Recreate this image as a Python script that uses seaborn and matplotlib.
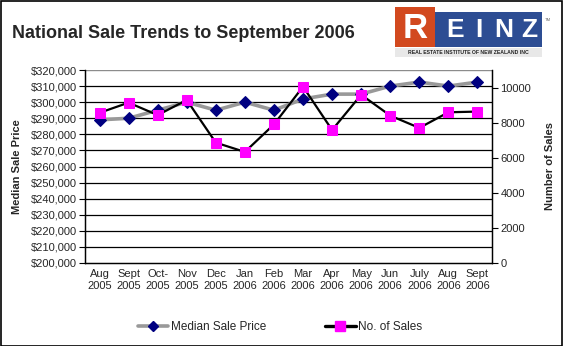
import matplotlib
matplotlib.use("Agg")
import matplotlib.pyplot as plt
from matplotlib.patches import Rectangle
from matplotlib.lines import Line2D
from matplotlib.ticker import FuncFormatter, MultipleLocator, FixedLocator
import seaborn as sns
import pandas as pd
import numpy as np

months = ["Aug\n2005", "Sept\n2005", "Oct-\n2005", "Nov\n2005", "Dec\n2005", "Jan\n2006",
          "Feb\n2006", "Mar\n2006", "Apr\n2006", "May\n2006", "Jun\n2006", "July\n2006",
          "Aug\n2006", "Sept\n2006"]
median_price = [289000, 290000, 295000, 300000, 295000, 300000, 295000,
                302000, 305000, 305000, 310000, 312500, 310000, 312500]
num_sales = [8560, 9140, 8430, 9290, 6860, 6330, 7900,
             10050, 7580, 9590, 8400, 7700, 8590, 8630]

df = pd.DataFrame({"pos": np.arange(len(months)), "price": median_price, "sales": num_sales})

sns.set_style("white")
plt.rcParams["font.family"] = ["Liberation Sans", "DejaVu Sans"]

fig = plt.figure(figsize=(5.63, 3.46), dpi=100)
ax = fig.add_axes([85 / 563, 1 - 263 / 346, (492 - 85) / 563, (263 - 70) / 346])
ax2 = ax.twinx()

# Median sale price: grey line, navy diamonds
sns.lineplot(data=df, x="pos", y="price", ax=ax, color="#999999", linewidth=2.6,
             marker="D", markersize=6.5, markerfacecolor="#000080",
             markeredgecolor="#000080", zorder=3)
# Number of sales: black line, magenta squares
sns.lineplot(data=df, x="pos", y="sales", ax=ax2, color="black", linewidth=1.6,
             marker="s", markersize=7.8, markerfacecolor="#FF00FF",
             markeredgecolor="#FF00FF", zorder=3)

ax.set_xlim(-0.5, len(months) - 0.5)
ax.set_ylim(200000, 320000)
ax2.set_ylim(0, 11000)

# Horizontal gridlines at each price step
for v in range(210000, 320000, 10000):
    ax.axhline(v, color="black", linewidth=0.9, zorder=1)
ax.axhline(320000, color="#8c8c8c", linewidth=1.0, zorder=1)

ax.yaxis.set_major_locator(MultipleLocator(10000))
ax.yaxis.set_major_formatter(FuncFormatter(lambda v, p: f"${v:,.0f}"))
ax2.yaxis.set_major_locator(FixedLocator([0, 2000, 4000, 6000, 8000, 10000]))
ax2.yaxis.set_major_formatter(FuncFormatter(lambda v, p: f"{v:.0f}"))

ax.set_xticks(np.arange(len(months)))
ax.set_xticklabels(months, fontsize=8, linespacing=1.3)
ax.xaxis.set_minor_locator(FixedLocator(np.arange(-0.5, len(months), 1)))
ax.tick_params(axis="x", which="major", length=0, pad=4)
ax.tick_params(axis="x", which="minor", length=4, width=0.8, direction="out", color="black")
ax.tick_params(axis="y", length=4, width=0.8, direction="out", color="black",
               labelsize=8, pad=2, left=True)
ax2.tick_params(axis="y", length=4, width=0.8, direction="out", color="black",
                labelsize=8, pad=2, right=True)

for a in (ax, ax2):
    a.set_xlabel("")
    for s in ("left", "right", "bottom"):
        a.spines[s].set_color("black")
        a.spines[s].set_linewidth(0.9)
    a.spines["top"].set_visible(False)
    a.patch.set_alpha(0)

ax.set_ylabel("Median Sale Price", fontsize=8, fontweight="bold", labelpad=6)
ax2.set_ylabel("Number of Sales", fontsize=8, fontweight="bold", labelpad=10)

# Title
fig.text(12 / 563, 1 - 34 / 346, "National Sale Trends to September 2006",
         fontsize=13, fontweight="bold", va="center", ha="left")

# REINZ emblem
fig.patches.append(Rectangle((395 / 563, 1 - 47 / 346), 40 / 563, 40 / 346,
                             transform=fig.transFigure, facecolor="#D2491F",
                             edgecolor="none", zorder=5))
fig.patches.append(Rectangle((435 / 563, 1 - 47 / 346), 107 / 563, 35 / 346,
                             transform=fig.transFigure, facecolor="#2D4D93",
                             edgecolor="none", zorder=5))
fig.patches.append(Rectangle((395 / 563, 1 - 57 / 346), 147 / 563, 9 / 346,
                             transform=fig.transFigure, facecolor="#E8E8E8",
                             edgecolor="none", zorder=5))
fig.text(415 / 563, 1 - 28 / 346, "R", color="white", fontsize=25, fontweight="bold",
         ha="center", va="center", zorder=6)
for ch, xp in zip("EINZ", [455, 479, 504, 529]):
    fig.text(xp / 563, 1 - 30 / 346, ch, color="white", fontsize=19, fontweight="bold",
             ha="center", va="center", zorder=6)
fig.text(468.5 / 563, 1 - 52.5 / 346, "REAL ESTATE INSTITUTE OF NEW ZEALAND INC",
         color="#222222", fontsize=3.7, fontweight="bold", ha="center", va="center", zorder=6)
fig.text(548 / 563, 1 - 20 / 346, "TM", color="#666666", fontsize=3, ha="center",
         va="center", zorder=6)

# Legend
h1 = Line2D([], [], color="#999999", linewidth=2.6, marker="D", markersize=5,
            markerfacecolor="#000080", markeredgecolor="#000080")
h2 = Line2D([], [], color="black", linewidth=2.4, marker="s", markersize=7,
            markerfacecolor="#FF00FF", markeredgecolor="#FF00FF")
fig.legend([h1, h2], ["Median Sale Price", "No. of Sales"], loc="center",
           bbox_to_anchor=(280 / 563, 1 - 327 / 346), ncol=2, frameon=False,
           fontsize=8.5, handlelength=2.6, handletextpad=0.2, columnspacing=5)

# Outer frame
fig.patches.append(Rectangle((0.5 / 563, 0.5 / 346), 561.5 / 563, 344.5 / 346,
                             transform=fig.transFigure, facecolor="none",
                             edgecolor="black", linewidth=1.2, zorder=10))

fig.savefig("out.png", dpi=100)
